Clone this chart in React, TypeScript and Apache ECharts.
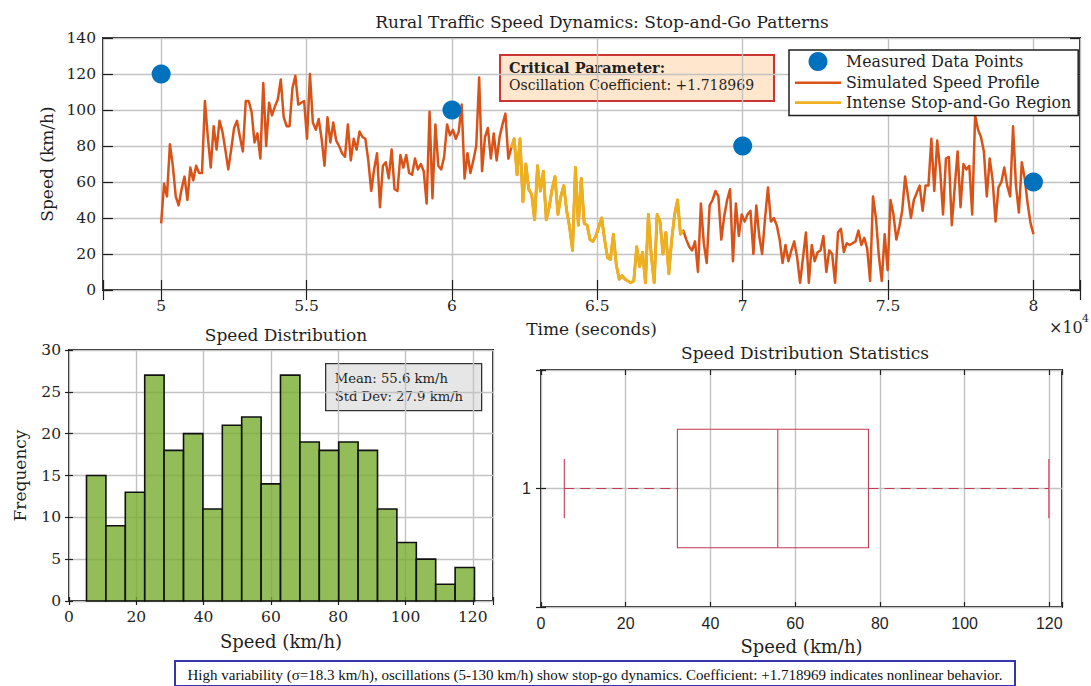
import React, { useEffect, useRef } from "react";
import * as echarts from "echarts";

// ---- data ----------------------------------------------------------------
// Simulated vehicle speed (km/h), 300 samples spread evenly over 50000..80000 s
const speedKmh: number[] = [
  37, 59, 52, 81, 69, 52, 47, 56, 63, 50, 68, 61, 69, 65, 65, 105, 85, 68, 91, 78,
  94, 88, 78, 67, 78, 90, 94, 85, 77, 105, 105, 99, 82, 87, 73, 115, 80, 104, 97, 102,
  106, 117, 96, 91, 91, 112, 119, 103, 104,
  105, 84, 120, 93, 89, 95, 84, 69, 96, 82, 93, 83, 80, 76, 74, 92, 72, 84, 78, 88,
  85, 84, 72, 55, 67, 76, 46, 69, 71, 62, 78, 56, 55, 75, 68, 75, 65, 64, 73, 67,
  70, 66, 48, 99, 51, 92, 69, 67, 74, 92,
  86, 89, 84, 88, 103, 62, 76, 65, 72, 80, 118, 66, 85, 90, 73, 87, 72, 85, 92, 98,
  73, 79,
  84, 64, 84, 49, 70, 56, 53, 39, 69, 55, 66, 39, 46, 56, 63, 42, 52, 58, 44, 35,
  22, 68, 36, 62, 37, 36, 28, 27,
  30, 35, 40, 28, 18, 17, 31, 14, 6, 8, 6, 5, 4, 5, 24, 13, 21, 4, 42, 19,
  4, 42, 38, 20, 32, 9, 28, 42, 50, 31, 33, 28, 24, 22, 27, 10, 48, 26, 15, 47,
  50, 55, 52, 28, 41, 50, 56, 16, 48, 30,
  42, 38, 42, 44, 20, 47, 30, 20, 40, 57, 38, 40, 36, 28, 15, 25, 16, 22, 27, 18,
  4, 18, 32, 4, 25, 16, 21, 22, 30, 10, 22, 20, 4, 32, 34, 21, 26, 25, 26, 27,
  33, 25, 29, 23, 5, 52, 40, 19, 5, 31,
  11, 50, 42, 28, 35, 44, 63, 52, 40, 50, 54, 58, 44, 58, 58, 84, 55, 83, 67, 42,
  73, 74, 36, 57, 77, 46, 70, 67, 69, 42, 97, 89, 85, 77, 52, 73, 61, 38, 57, 60,
  68, 58, 52, 91, 58, 43, 71, 62, 48, 37, 31,
];
const startTime = 50000;
const endTime = 80000;
const timeSec: number[] = speedKmh.map(
  (_, i) => startTime + (i * (endTime - startTime)) / (speedKmh.length - 1)
);

// sample indices of the intense stop-and-go stretch
const stopGoFirst = 120;
const stopGoLast = 179;

// measured points
const measuredTime: number[] = [50000, 60000, 70000, 80000];
const measuredSpeed: number[] = [120, 100, 80, 60];

// histogram of speeds
const histEdges: number[] = [
  5.2, 10.97, 16.73, 22.5, 28.26, 34.03, 39.79, 45.56, 51.32, 57.09, 62.85,
  68.62, 74.38, 80.15, 85.91, 91.68, 97.44, 103.21, 108.97, 114.74, 120.5,
];
const histCounts: number[] = [
  15, 9, 13, 27, 18, 20, 11, 21, 22, 14, 27, 19, 18, 19, 18, 11, 7, 5, 2, 4,
];

// box plot: lower whisker, Q1, median, Q3, upper whisker
const boxStats: number[] = [5.5, 32.2, 55.9, 77.3, 119.9];

const meanText = "Mean: 55.6 km/h";
const stdText = "Std Dev: 27.9 km/h";
const coefText = "Oscillation Coefficient: +1.718969";
const footerText =
  "High variability (\u03c3=18.3 km/h), oscillations (5-130 km/h) show stop-go dynamics. Coefficient: +1.718969 indicates nonlinear behavior.";

// ---- styling -------------------------------------------------------------
const SERIF = '"DejaVu Serif", serif';
const SANS = '"Liberation Sans", Arial, sans-serif';
const TIMES = '"Liberation Serif", "Times New Roman", serif';
const INK = "#1f1f1f";
const GRID = "#c2c2c2";
const ORANGE = "#d95319";
const YELLOW = "#edb120";
const BLUE = "#0072bd";
const BOX = "#c43b55";
// horizontal bar used as the legend glyph of a line
const LINE_ICON = "path://M0,0L46,0L46,2.6L0,2.6Z";

const tick = (len: number) => ({
  show: true,
  inside: true,
  length: len,
  lineStyle: { color: INK, width: 1.2 },
});
const split = { show: true, lineStyle: { color: GRID, width: 1.4 } };
const noLine = { show: false };
const labelStyle = (family: string, size: number, margin: number) => ({
  fontFamily: family,
  fontSize: size,
  color: INK,
  margin,
});
const nameStyle = { fontFamily: SERIF, fontSize: 17, color: INK };
const titleStyle = { fontFamily: SERIF, fontSize: 17, fontWeight: "normal", color: INK };

const mirrorX = (gridIndex: number, min: number, max: number, len: number, interval?: number) => ({
  gridIndex,
  type: "value",
  position: "top",
  min,
  max,
  interval,
  axisLine: noLine,
  axisTick: tick(len),
  axisLabel: { show: false },
  splitLine: { show: false },
});
const mirrorY = (gridIndex: number, min: number, max: number, len: number, interval?: number) => ({
  gridIndex,
  type: "value",
  position: "right",
  min,
  max,
  interval,
  axisLine: noLine,
  axisTick: tick(len),
  axisLabel: { show: false },
  splitLine: { show: false },
});

function buildOption() {
  const profile = timeSec.map((t, i) => [t, speedKmh[i]]);
  const stopGo = profile.slice(stopGoFirst, stopGoLast + 1);
  const measured = measuredTime.map((t, i) => [t, measuredSpeed[i]]);
  const histData = histCounts.map((c, i) => [histEdges[i], histEdges[i + 1], c]);

  return {
    animation: false,
    backgroundColor: "#ffffff",
    title: [
      {
        text: "Rural Traffic Speed Dynamics: Stop-and-Go Patterns",
        left: 597,
        top: 8,
        textAlign: "center",
        textStyle: titleStyle,
      },
      {
        text: "Speed Distribution",
        left: 281,
        top: 321,
        textAlign: "center",
        textStyle: titleStyle,
      },
      {
        text: "Speed Distribution Statistics",
        left: 800,
        top: 339,
        textAlign: "center",
        textStyle: titleStyle,
      },
    ],
    legend: {
      left: 789,
      top: 50,
      orient: "vertical",
      data: [
        { name: "Measured Data Points", icon: "circle" },
        { name: "Simulated Speed Profile", icon: LINE_ICON },
        { name: "Intense Stop-and-Go Region", icon: LINE_ICON },
      ],
      itemWidth: 46,
      itemHeight: 19,
      itemGap: 3.8,
      padding: [2, 7, 5, 6],
      backgroundColor: "#ffffff",
      borderColor: INK,
      borderWidth: 1.5,
      textStyle: { fontFamily: SERIF, fontSize: 15.8, color: INK },
      z: 20,
    },
    grid: [
      { left: 103, top: 38, width: 977, height: 252, show: true, borderColor: INK, borderWidth: 2, backgroundColor: "transparent" },
      { left: 69, top: 350, width: 424, height: 251, show: true, borderColor: INK, borderWidth: 2, backgroundColor: "transparent" },
      { left: 541, top: 370, width: 521, height: 237, show: true, borderColor: INK, borderWidth: 2, backgroundColor: "transparent" },
    ],
    xAxis: [
      {
        gridIndex: 0,
        type: "value",
        min: 48000,
        max: 81600,
        axisLine: noLine,
        axisTick: tick(10),
        splitLine: split,
        axisLabel: {
          ...labelStyle(SERIF, 15.5, 8),
          formatter: (v: number) => (v % 5000 === 0 ? String(v / 10000) : ""),
        },
        name: "Time (seconds)",
        nameLocation: "middle",
        nameGap: 30,
        nameTextStyle: nameStyle,
      },
      mirrorX(0, 48000, 81600, 10),
      {
        gridIndex: 1,
        type: "value",
        min: 0,
        max: 126,
        interval: 20,
        axisLine: noLine,
        axisTick: tick(4),
        splitLine: split,
        axisLabel: {
          ...labelStyle(SERIF, 15.5, 8),
          formatter: (v: number) => (v % 20 === 0 ? String(v) : ""),
        },
        name: "Speed (km/h)",
        nameLocation: "middle",
        nameGap: 31,
        nameTextStyle: { ...nameStyle, fontSize: 18 },
      },
      mirrorX(1, 0, 126, 4, 20),
      {
        gridIndex: 2,
        type: "value",
        min: 0,
        max: 123,
        interval: 20,
        axisLine: noLine,
        axisTick: tick(5),
        splitLine: split,
        axisLabel: {
          ...labelStyle(SANS, 16, 8),
          formatter: (v: number) => (v % 20 === 0 ? String(v) : ""),
        },
        name: "Speed (km/h)",
        nameLocation: "middle",
        nameGap: 30,
        nameTextStyle: { ...nameStyle, fontSize: 18 },
      },
      mirrorX(2, 0, 123, 5, 20),
    ],
    yAxis: [
      {
        gridIndex: 0,
        type: "value",
        min: 0,
        max: 140,
        interval: 20,
        axisLine: noLine,
        axisTick: tick(10),
        splitLine: split,
        axisLabel: labelStyle(SERIF, 15.5, 7),
        name: "Speed (km/h)",
        nameLocation: "middle",
        nameRotate: 90,
        nameGap: 47,
        nameTextStyle: nameStyle,
      },
      mirrorY(0, 0, 140, 10, 20),
      {
        gridIndex: 1,
        type: "value",
        min: 0,
        max: 30,
        interval: 5,
        axisLine: noLine,
        axisTick: tick(4),
        splitLine: split,
        axisLabel: labelStyle(SERIF, 15.5, 8),
        name: "Frequency",
        nameLocation: "middle",
        nameRotate: 90,
        nameGap: 41,
        nameTextStyle: nameStyle,
      },
      mirrorY(1, 0, 30, 4, 5),
      {
        gridIndex: 2,
        type: "value",
        min: 0.5,
        max: 1.5,
        interval: 0.5,
        axisLine: noLine,
        axisTick: tick(5),
        splitLine: split,
        axisLabel: {
          ...labelStyle(SANS, 16, 10),
          formatter: (v: number) => (v === 1 ? "1" : ""),
        },
      },
      mirrorY(2, 0.5, 1.5, 5, 0.5),
    ],
    series: [
      {
        type: "line",
        name: "Simulated Speed Profile",
        xAxisIndex: 0,
        yAxisIndex: 0,
        data: profile,
        symbol: "none",
        showSymbol: false,
        lineStyle: { color: ORANGE, width: 2.5, join: "round" },
        itemStyle: { color: ORANGE },
        z: 2,
      },
      {
        type: "line",
        name: "Intense Stop-and-Go Region",
        xAxisIndex: 0,
        yAxisIndex: 0,
        data: stopGo,
        symbol: "none",
        showSymbol: false,
        lineStyle: { color: YELLOW, width: 3, join: "round" },
        itemStyle: { color: YELLOW },
        z: 3,
      },
      {
        type: "scatter",
        name: "Measured Data Points",
        xAxisIndex: 0,
        yAxisIndex: 0,
        data: measured,
        symbol: "circle",
        symbolSize: 19,
        itemStyle: { color: BLUE, opacity: 1 },
        z: 4,
      },
      {
        type: "custom",
        name: "Speed histogram",
        xAxisIndex: 2,
        yAxisIndex: 2,
        data: histData,
        encode: { x: [0, 1], y: 2 },
        renderItem: (_params: any, api: any) => {
          const p0 = api.coord([api.value(0), api.value(2)]);
          const p1 = api.coord([api.value(1), 0]);
          return {
            type: "rect",
            shape: { x: p0[0], y: p0[1], width: p1[0] - p0[0], height: p1[1] - p0[1] },
            style: { fill: "rgba(119,172,48,0.8)", stroke: "#111111", lineWidth: 1.6 },
          };
        },
        z: 3,
      },
      {
        type: "custom",
        name: "Speed box plot",
        xAxisIndex: 4,
        yAxisIndex: 4,
        data: [[...boxStats, 1]],
        encode: { x: [0, 1, 2, 3, 4], y: 5 },
        renderItem: (_params: any, api: any) => {
          const lo = api.value(0);
          const q1 = api.value(1);
          const med = api.value(2);
          const q3 = api.value(3);
          const hi = api.value(4);
          const yc = api.value(5);
          const c = (x: number, y: number) => api.coord([x, y]);
          const line = (a: number[], b: number[], dashed: boolean) => ({
            type: "line",
            shape: { x1: a[0], y1: a[1], x2: b[0], y2: b[1] },
            style: { stroke: BOX, lineWidth: 1.1, lineDash: dashed ? [10, 6] : null },
          });
          const boxTop = c(q1, yc + 0.25);
          const boxBot = c(q3, yc - 0.25);
          return {
            type: "group",
            children: [
              line(c(lo, yc), c(q1, yc), true),
              line(c(q3, yc), c(hi, yc), true),
              line(c(lo, yc - 0.125), c(lo, yc + 0.125), false),
              line(c(hi, yc - 0.125), c(hi, yc + 0.125), false),
              {
                type: "rect",
                shape: {
                  x: boxTop[0],
                  y: boxTop[1],
                  width: boxBot[0] - boxTop[0],
                  height: boxBot[1] - boxTop[1],
                },
                style: { fill: "none", stroke: BOX, lineWidth: 1.1 },
              },
              line(c(med, yc - 0.25), c(med, yc + 0.25), false),
            ],
          };
        },
        z: 3,
      },
    ],
    graphic: [
      {
        type: "group",
        left: 499,
        top: 54,
        z: 30,
        children: [
          {
            type: "rect",
            shape: { x: 0, y: 0, width: 274, height: 46 },
            style: { fill: "#ffe6cc", stroke: "#cc3333", lineWidth: 2 },
          },
          {
            type: "text",
            x: 9,
            y: 12,
            style: {
              text: "Critical Parameter:",
              fontFamily: SERIF,
              fontSize: 14.5,
              fontWeight: "bold",
              fill: INK,
              verticalAlign: "middle",
            },
          },
          {
            type: "text",
            x: 9,
            y: 29.5,
            style: {
              text: coefText,
              fontFamily: SERIF,
              fontSize: 14,
              fill: INK,
              verticalAlign: "middle",
            },
          },
        ],
      },
      {
        type: "group",
        left: 325,
        top: 363,
        z: 30,
        children: [
          {
            type: "rect",
            shape: { x: 0, y: 0, width: 156, height: 47 },
            style: { fill: "#e6e6e6", stroke: "#333333", lineWidth: 1.3 },
          },
          {
            type: "text",
            x: 9,
            y: 15,
            style: { text: meanText, fontFamily: SERIF, fontSize: 13.2, fill: INK, verticalAlign: "middle" },
          },
          {
            type: "text",
            x: 9,
            y: 33,
            style: { text: stdText, fontFamily: SERIF, fontSize: 13.2, fill: INK, verticalAlign: "middle" },
          },
        ],
      },
      {
        type: "text",
        left: 1049,
        top: 319,
        style: { text: "\u00d710", fontFamily: SERIF, fontSize: 16, fill: INK },
      },
      {
        type: "text",
        left: 1082,
        top: 313,
        style: { text: "4", fontFamily: SERIF, fontSize: 11, fill: INK },
      },
      {
        type: "group",
        left: 174,
        top: 660,
        z: 30,
        children: [
          {
            type: "rect",
            shape: { x: 0, y: 0, width: 840, height: 25 },
            style: { fill: "#ffffff", stroke: "#3535b0", lineWidth: 2 },
          },
          {
            type: "text",
            x: 420,
            y: 14,
            style: {
              text: footerText,
              fontFamily: TIMES,
              fontSize: 15,
              fill: "#111111",
              align: "center",
              verticalAlign: "middle",
            },
          },
        ],
      },
    ],
  };
}

export default function App() {
  const ref = useRef<HTMLDivElement>(null);

  useEffect(() => {
    if (!ref.current) return;
    const chart = echarts.init(ref.current, undefined, { renderer: "svg" });
    chart.setOption(buildOption() as any);
    return () => {
      chart.dispose();
    };
  }, []);

  return (
    <div
      ref={ref}
      style={{ position: "fixed", left: 0, top: 0, width: 1091, height: 686, background: "#fff" }}
    />
  );
}
